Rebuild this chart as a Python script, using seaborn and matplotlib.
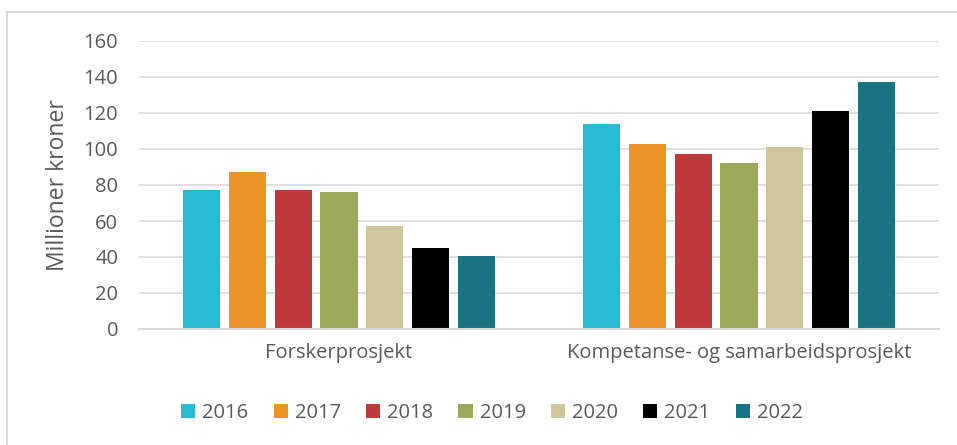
import matplotlib
matplotlib.use("Agg")
import matplotlib.pyplot as plt
import seaborn as sns
import pandas as pd
from matplotlib.patches import Rectangle, Patch

# Data
categories = ["Forskerprosjekt", "Kompetanse- og samarbeidsprosjekt"]
years = ["2016", "2017", "2018", "2019", "2020", "2021", "2022"]
forsker = [77, 87, 77, 76, 57, 45, 40.5]
kompetanse = [114, 103, 97, 92, 101, 121, 137]
colors = ["#27BCD3", "#EB9428", "#C0383A", "#9BA858", "#CEC69C", "#000000", "#197382"]

rows = []
for yr, v in zip(years, forsker):
    rows.append({"kategori": categories[0], "år": yr, "verdi": v})
for yr, v in zip(years, kompetanse):
    rows.append({"kategori": categories[1], "år": yr, "verdi": v})
df = pd.DataFrame(rows)

sns.set_style("white")
plt.rcParams["font.family"] = ["Open Sans", "DejaVu Sans"]
text_col = "#595959"
grid_col = "#D9D9D9"

fig = plt.figure(figsize=(9.57, 4.45), dpi=100)
ax = fig.add_axes([139 / 957, 1 - 329 / 445, 800 / 957, 288 / 445])

sns.barplot(data=df, x="kategori", y="verdi", hue="år", palette=colors,
            width=0.8, gap=0.19, saturation=1, linewidth=0, legend=False, ax=ax)

ax.set_ylim(0, 160)
ax.set_xlim(-0.5, 1.5)
ax.set_yticks(range(0, 161, 20))
ax.yaxis.grid(True, color=grid_col, linewidth=1.2)
ax.set_axisbelow(True)
for s in ["top", "right", "left"]:
    ax.spines[s].set_visible(False)
ax.spines["bottom"].set_color(grid_col)
ax.spines["bottom"].set_linewidth(1.5)
ax.tick_params(axis="y", length=0, pad=15, labelsize=14.5, labelcolor=text_col)
ax.tick_params(axis="x", length=0, pad=10, labelsize=14.5, labelcolor=text_col)
ax.set_xlabel("")
ax.set_ylabel("Millioner kroner", fontsize=16.5, color=text_col, labelpad=10)

handles = [Patch(facecolor=c, edgecolor="none") for c in colors]
fig.legend(handles, years, loc="center", bbox_to_anchor=(492 / 957, 1 - 413 / 445),
           ncol=7, frameon=False, fontsize=14.5, labelcolor=text_col,
           handlelength=0.7, handleheight=0.7, handletextpad=0.35, columnspacing=1.25)

# light frame around the chart area (left and top edges visible)
fig.patches.append(Rectangle((6.5 / 957, -0.1), 1.0, 1.1 - 11.5 / 445, fill=False,
                             edgecolor=grid_col, linewidth=1.5, transform=fig.transFigure))

fig.savefig("out.png", dpi=100)
